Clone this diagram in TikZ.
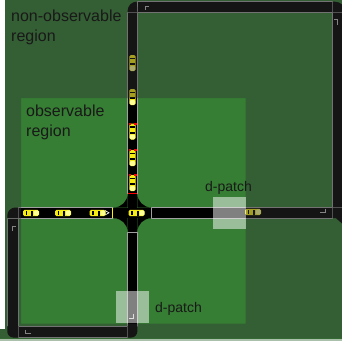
\documentclass[tikz,border=0pt]{standalone}
\usepackage{fontspec}
\setmainfont{Liberation Sans}
\definecolor{fieldgreen}{RGB}{54,126,51}
\definecolor{shadecol}{RGB}{51,51,51}
\definecolor{roadedge}{RGB}{160,160,160}
\definecolor{carbody}{RGB}{246,236,20}
\definecolor{carlight}{RGB}{255,255,150}
\definecolor{laneline}{RGB}{190,190,190}
\definecolor{bottomstrip}{RGB}{170,192,170}
\begin{document}
\begin{tikzpicture}[x=1pt,y=-1pt,
  roadseg/.style={fill=black,draw=roadedge,line width=0.8},
  lanemark/.style={draw=laneline,line width=0.7},
  lbl/.style={font=\fontsize{16}{19.5}\selectfont,align=left,inner sep=0pt,text=black!90},
  lblsmall/.style={font=\fontsize{14}{17}\selectfont,inner sep=0pt,text=black!90},
  eastcar/.pic={
    \fill[carbody,rounded corners=1.6] (-8,-3.2) rectangle (8,3.2);
    \fill[carlight,rounded corners=1.2] (3,-2.6) rectangle (7.8,2.6);
    \fill[black] (-5.2,-2.3) rectangle (-3.6,2.3);
    \fill[black] (0.2,-2.5) rectangle (2.4,2.5);
  },
  southcar/.pic={
    \fill[carbody,rounded corners=1.6] (-3.2,-8) rectangle (3.2,8);
    \fill[carlight,rounded corners=1.2] (-2.6,3) rectangle (2.6,7.8);
    \fill[black] (-2.3,-5.2) rectangle (2.3,-3.6);
    \fill[black] (-2.5,0.2) rectangle (2.5,2.4);
  },
  southcarbraking/.pic={
    \pic {southcar};
    \fill[red] (-4.0,-8.8) rectangle (-1.6,-7.0);
    \fill[red] (1.6,-8.8) rectangle (4.0,-7.0);
  }
]
\useasboundingbox (0,0) rectangle (342,341);
\clip (0,0) rectangle (342,341);

% ground
\fill[white] (0,0) rectangle (342,341);
\fill[fieldgreen] (0,0) rectangle (342,338.5);

% straight road segments
\filldraw[roadseg] (137.3,1.7) rectangle (332.7,12.3);   % top
\filldraw[roadseg] (332.7,12.3) rectangle (346,207.5);   % right
\filldraw[roadseg] (151.3,207.5) rectangle (332.7,218.2);% middle, east arm
\filldraw[roadseg] (127.7,12.3) rectangle (137.3,193.5); % north arm
\filldraw[roadseg] (18.3,207.5) rectangle (112,218.2);   % middle, west arm
\filldraw[roadseg] (7.3,218.2) rectangle (18.3,326);     % left
\filldraw[roadseg] (18.3,326) rectangle (127.7,337.5);   % bottom
\filldraw[roadseg] (127.7,232.2) rectangle (137.3,326);  % south arm

% bends
\fill (137.3,12.3) -- (127.7,12.3) -- (127.7,10.7) arc[start angle=180,end angle=270,radius=9] -- cycle;
\fill (332.7,1.7) -- (335,1.7) arc[start angle=270,end angle=360,radius=10] -- (345,12.3) -- (332.7,12.3) -- cycle;
\fill (332.7,207.5) -- (346,207.5) -- (346,227) -- (336,218.2) -- (332.7,218.2) -- cycle;
\fill (18.3,207.5) -- (15.3,207.5) arc[start angle=270,end angle=180,radius=8] -- (7.3,218.2) -- (18.3,218.2) -- cycle;
\fill (7.3,326) -- (18.3,326) -- (18.3,337.5) -- (13.3,337.5) arc[start angle=90,end angle=180,radius=6] -- cycle;
\fill (127.7,326) -- (137.3,326) -- (137.3,331.5) arc[start angle=0,end angle=90,radius=6] -- (127.7,337.5) -- cycle;

% junction
\fill (112,207.5) rectangle (151.3,218.2);
\fill (127.7,193.5) rectangle (137.3,232.2);
\fill (127.7,193.5) -- (127.7,207.5) -- (113.7,207.5) arc[start angle=90,end angle=0,radius=14];
\fill (137.3,193.5) -- (137.3,207.5) -- (151.3,207.5) arc[start angle=90,end angle=180,radius=14];
\fill (127.7,232.2) -- (127.7,218.2) -- (113.7,218.2) arc[start angle=270,end angle=360,radius=14];
\fill (137.3,232.2) -- (137.3,218.2) -- (151.3,218.2) arc[start angle=270,end angle=180,radius=14];

% signals
\draw[red,line width=1.6] (127.7,193.5) -- (137.3,193.5);
\draw[yellow,line width=1.2] (112.6,207.5) -- (112.6,218.2);

% lane direction marks
\draw[lanemark] (145,10) -- (145,6.5) -- (149,6.5);
\draw[lanemark] (334,19.5) -- (337.5,19.5) -- (337.5,25);
\draw[lanemark] (325,208.5) -- (325,212.5) -- (320,212.5);
\draw[lanemark] (12,231) -- (12,226.5) -- (15.5,226.5);
\draw[lanemark] (25.5,329.5) -- (25.5,333) -- (30.5,333);
\draw[lanemark] (133,313.7) -- (133,318) -- (128.5,318);
\draw[white,line width=0.7] (105,210.5) -- (109,212.8) -- (105,215);

% vehicles heading east
\pic at (31,213) {eastcar};
\pic at (63,213) {eastcar};
\pic at (97.5,213) {eastcar};
\pic at (136.5,213) {eastcar};
\pic at (253,212) {eastcar};
% vehicles heading south
\pic at (132.5,63) {southcar};
\pic at (132.5,97) {southcar};
\pic at (132.5,131.5) {southcarbraking};
\pic at (132.5,158) {southcarbraking};
\pic at (132.5,183) {southcarbraking};

% shading outside the observable region
\fill[shadecol,opacity=0.415,even odd rule] (0,0) rectangle (342,338.5) (21,98) rectangle (245.5,323.5);

% d-patches
\fill[white,opacity=0.5] (213,197) rectangle (245.5,229);
\fill[white,opacity=0.5] (116,290.5) rectangle (148.5,323);

% labels
\node[lbl,anchor=north west] (nonobs) at (11,10) {non-observable\\region};
\node[lbl,anchor=north west] (obs) at (26,105) {observable\\region};
\node[lblsmall,anchor=base west] (dpatchA) at (205,191) {d-patch};
\node[lblsmall,anchor=base west] (dpatchB) at (155,312) {d-patch};

% frame strips
\fill[white] (0,0) rectangle (5,329);
\fill[bottomstrip] (0,338.5) rectangle (342,341);
\end{tikzpicture}
\end{document}
